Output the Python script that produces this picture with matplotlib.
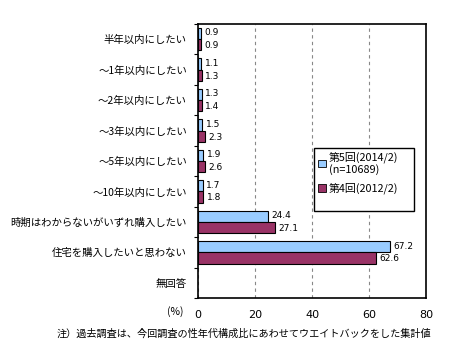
import numpy as np
import matplotlib.pyplot as plt
from matplotlib.patches import Patch, Rectangle

plt.rcParams['font.family'] = ['Noto Sans CJK JP', 'DejaVu Sans']

categories = ['半年以内にしたい', '～1年以内にしたい', '～2年以内にしたい', '～3年以内にしたい',
              '～5年以内にしたい', '～10年以内にしたい', '時期はわからないがいずれ購入したい',
              '住宅を購入したいと思わない', '無回答']
survey5 = [0.9, 1.1, 1.3, 1.5, 1.9, 1.7, 24.4, 67.2, np.nan]
survey4 = [0.9, 1.3, 1.4, 2.3, 2.6, 1.8, 27.1, 62.6, np.nan]
series_labels = ['第5回(2014/2)\n(n=10689)', '第4回(2012/2)']
xticks = [0, 20, 40, 60, 80]

blue = '#99ccff'
red = '#993366'

fig = plt.figure(figsize=(4.51, 3.59), dpi=100)
ax = fig.add_axes([198 / 451, 1 - 298 / 359, 228 / 451, 274 / 359])

n = len(categories)
y = np.arange(n)
h = 0.37
v5 = np.array(survey5)
v4 = np.array(survey4)
ok5 = ~np.isnan(v5)
ok4 = ~np.isnan(v4)
ax.barh(y[ok5] - h / 2, v5[ok5], height=h, color=blue, edgecolor='black', linewidth=0.8, zorder=3)
ax.barh(y[ok4] + h / 2, v4[ok4], height=h, color=red, edgecolor='black', linewidth=0.8, zorder=3)

for yy, v in zip(y[ok5], v5[ok5]):
    ax.text(v + 1.2, yy - h / 2 - 0.02, f'{v:.1f}', va='center', ha='left', fontsize=6.5,
            family='DejaVu Sans')
for yy, v in zip(y[ok4], v4[ok4]):
    ax.text(v + 1.2, yy + h / 2 + 0.03, f'{v:.1f}', va='center', ha='left', fontsize=6.5,
            family='DejaVu Sans')

ax.set_xlim(0, 80)
ax.set_ylim(n - 0.5, -0.5)
ax.set_xticks(xticks)
ax.set_xticklabels([str(t) for t in xticks], fontsize=8, family='DejaVu Sans')
ax.tick_params(axis='x', length=0, pad=9)
ax.set_yticks(y)
ax.set_yticklabels(categories, fontsize=7.5)
ax.tick_params(axis='y', which='major', length=0, pad=8)
ax.set_yticks(np.arange(n + 1) - 0.5, minor=True)
ax.tick_params(axis='y', which='minor', length=3, width=0.8, direction='out')
ax.xaxis.grid(True, linestyle=(0, (3, 3)), color='#888888', linewidth=0.8, zorder=0)
for s in ax.spines.values():
    s.set_linewidth(1.2)

# legend box drawn separately so it keeps the reference's height
box = Rectangle((314 / 451, 1 - 211 / 359), 100 / 451, 63 / 359, transform=fig.transFigure,
                facecolor='white', edgecolor='black', linewidth=1.0, zorder=4)
fig.add_artist(box)
handles = [Patch(facecolor=blue, edgecolor='black', linewidth=0.6),
           Patch(facecolor=red, edgecolor='black', linewidth=0.6)]
leg = fig.legend(handles, series_labels, loc='upper left',
                 bbox_to_anchor=(316 / 451, 1 - 149 / 359),
                 fontsize=7.8, frameon=False,
                 handlelength=0.7, handleheight=0.7, handletextpad=0.3,
                 borderpad=0.2, labelspacing=0.7, borderaxespad=0)
leg.set_zorder(5)

fig.text(183 / 451, 1 - 312 / 359, '(%)', fontsize=7.5, ha='right', va='center')
fig.text(57 / 451, 1 - 334 / 359,
         '注）過去調査は、今回調査の性年代構成比にあわせてウエイトバックをした集計値',
         fontsize=7.3, ha='left', va='center')

fig.savefig('out.png', dpi=100)
